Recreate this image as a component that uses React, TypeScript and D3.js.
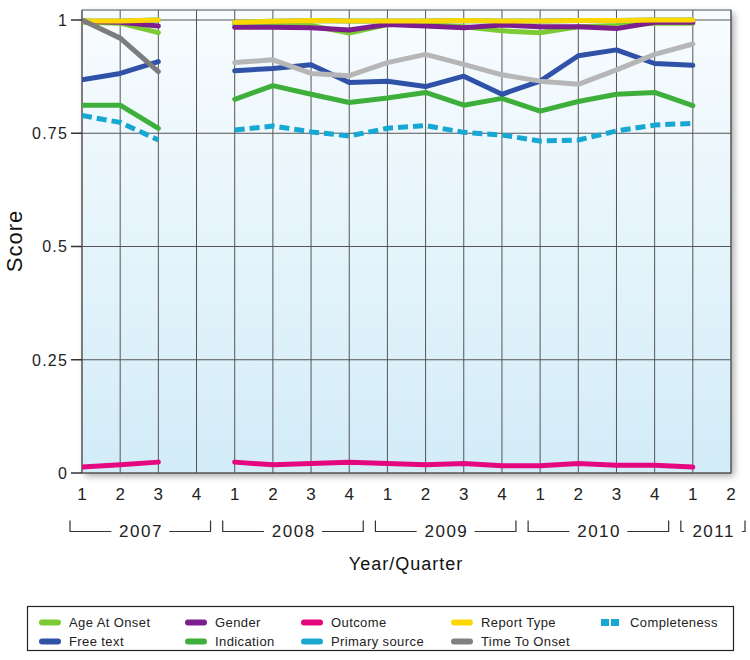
import React from 'react';
import * as d3 from 'd3';

// ---------- data ----------
const quarterLabels = ["1", "2", "3", "4", "1", "2", "3", "4", "1", "2", "3", "4", "1", "2", "3", "4", "1", "2"];
const yearLabels = ["2007", "2008", "2009", "2010", "2011"];
const yearStartIdx = [0, 4, 8, 12, 16];
const yearEndIdx = [3, 7, 11, 15, 17];
const yTicks = [0, 0.25, 0.5, 0.75, 1];
const yTickLabels = ["0", "0.25", "0.5", "0.75", "1"];

const ageAtOnset = [0.995, 0.993, 0.972, null, 0.99, 0.99, 0.988, 0.971, 0.99, 0.99, 0.985, 0.976, 0.972, 0.985, 0.988, 0.993, 0.993, null];
const gender = [0.997, 0.995, 0.987, null, 0.984, 0.984, 0.983, 0.978, 0.99, 0.987, 0.983, 0.989, 0.985, 0.985, 0.981, 0.995, 0.995, null];
const reportType = [0.998, 0.998, 1.0, null, 0.995, 0.997, 0.999, 0.998, 0.998, 0.998, 0.999, 0.998, 0.998, 0.999, 0.999, 1.0, 1.0, null];
const primarySource = [0.998, 0.998, 1.0, null, 0.995, 0.997, 0.999, 0.998, 0.998, 0.998, 0.999, 0.998, 0.998, 0.999, 0.999, 1.0, 1.0, null];
const outcome = [0.013, 0.018, 0.024, null, 0.024, 0.018, 0.021, 0.024, 0.021, 0.018, 0.021, 0.016, 0.016, 0.021, 0.017, 0.017, 0.013, null];
const indication = [0.812, 0.812, 0.761, null, 0.825, 0.855, 0.836, 0.818, 0.828, 0.84, 0.812, 0.827, 0.799, 0.82, 0.836, 0.84, 0.811, null];
const completeness = [0.789, 0.774, 0.735, null, 0.757, 0.766, 0.753, 0.744, 0.761, 0.767, 0.752, 0.746, 0.733, 0.735, 0.755, 0.768, 0.772, null];
const freeText = [0.868, 0.882, 0.908, null, 0.888, 0.893, 0.901, 0.862, 0.865, 0.853, 0.876, 0.836, 0.865, 0.921, 0.934, 0.904, 0.9, null];
const timeToOnset = [1.0, 0.96, 0.886, null, 0.906, 0.912, 0.882, 0.877, 0.906, 0.924, 0.902, 0.879, 0.865, 0.858, 0.89, 0.924, 0.947, null];

// ---------- styles ----------
type Style = { name: string; values: (number | null)[]; color: string; runColors?: string[]; dashed?: boolean };
const drawOrder: Style[] = [
  { name: "Primary source", values: primarySource, color: "#1aa7d0" },
  { name: "Age At Onset", values: ageAtOnset, color: "#7ccb34" },
  { name: "Gender", values: gender, color: "#7d1d8e" },
  { name: "Report Type", values: reportType, color: "#ffd700" },
  { name: "Outcome", values: outcome, color: "#e5077f" },
  { name: "Indication", values: indication, color: "#3daf3a" },
  { name: "Completeness", values: completeness, color: "#16a7d3", dashed: true },
  { name: "Free text", values: freeText, color: "#2f52a8" },
  { name: "Time To Onset", values: timeToOnset, color: "#808080", runColors: ["#7c7c7c", "#b6b6b6"] },
];

const legendRows: { name: string; color: string; dashed?: boolean }[][] = [
  [
    { name: "Age At Onset", color: "#7ccb34" },
    { name: "Gender", color: "#7d1d8e" },
    { name: "Outcome", color: "#e5077f" },
    { name: "Report Type", color: "#ffd700" },
    { name: "Completeness", color: "#16a7d3", dashed: true },
  ],
  [
    { name: "Free text", color: "#2f52a8" },
    { name: "Indication", color: "#3daf3a" },
    { name: "Primary source", color: "#1aa7d0" },
    { name: "Time To Onset", color: "#808080" },
  ],
];
const legendColX = [39, 185, 301, 451, 600];

const FONT = "'Liberation Sans', Arial, Helvetica, sans-serif";

function runsOf(values: (number | null)[]) {
  const runs: { i: number; v: number }[][] = [];
  let cur: { i: number; v: number }[] = [];
  values.forEach((v, i) => {
    if (v === null) {
      if (cur.length) runs.push(cur);
      cur = [];
    } else cur.push({ i, v });
  });
  if (cur.length) runs.push(cur);
  return runs;
}

export default function App() {
  const x = d3.scaleLinear().domain([0, quarterLabels.length - 1]).range([82, 731]);
  const y = d3.scaleLinear().domain([0, 1]).range([473, 20]);
  const top = y(1.022);
  const bottom = y(0);
  const left = x(0);
  const right = x(quarterLabels.length - 1);

  const line = d3
    .line<{ i: number; v: number }>()
    .x((d) => x(d.i))
    .y((d) => y(d.v));

  return (
    <svg width={750} height={660} style={{ position: 'absolute', left: 0, top: 0, background: '#fff' }} fontFamily={FONT}>
      <defs>
        <linearGradient id="bg" x1="0" y1="0" x2="0" y2="1">
          <stop offset="0%" stopColor="#f8fcfe" />
          <stop offset="100%" stopColor="#d2ecf8" />
        </linearGradient>
        <filter id="shadow" x="-5%" y="-5%" width="112%" height="112%">
          <feDropShadow dx="3" dy="3" stdDeviation="3.5" floodColor="#000" floodOpacity="0.35" />
        </filter>
        <clipPath id="plotclip">
          <rect x={left} y={top} width={right - left} height={bottom - top} />
        </clipPath>
      </defs>

      {/* plot background */}
      <rect x={left} y={top} width={right - left} height={bottom - top} fill="url(#bg)" filter="url(#shadow)" />

      {/* grid */}
      {quarterLabels.map((_, i) => (
        <line key={'v' + i} x1={x(i)} x2={x(i)} y1={top} y2={bottom} stroke="#555" strokeWidth={1} />
      ))}
      {yTicks.map((t) => (
        <line key={'h' + t} x1={left} x2={right} y1={y(t)} y2={y(t)} stroke="#555" strokeWidth={1} />
      ))}
      <rect x={left} y={top} width={right - left} height={bottom - top} fill="none" stroke="#555" strokeWidth={1} />

      {/* series */}
      <g clipPath="url(#plotclip)">
        {drawOrder.map((s) =>
          runsOf(s.values).map((run, ri) => (
            <path
              key={s.name + ri}
              d={line(run) || ''}
              fill="none"
              stroke={s.runColors ? s.runColors[Math.min(ri, s.runColors.length - 1)] : s.color}
              strokeWidth={5}
              strokeLinecap={s.dashed ? 'butt' : 'round'}
              strokeLinejoin="round"
              strokeDasharray={s.dashed ? '10,5' : undefined}
            />
          ))
        )}
      </g>

      {/* y axis */}
      {yTicks.map((t, i) => (
        <g key={'yt' + t}>
          <line x1={71} x2={left} y1={y(t)} y2={y(t)} stroke="#333" strokeWidth={1.5} />
          <text x={68} y={y(t)} dy="0.36em" textAnchor="end" fontSize={16} letterSpacing={1.2} fill="#222">
            {yTickLabels[i]}
          </text>
        </g>
      ))}
      <text
        transform={`translate(22,${241}) rotate(-90)`}
        textAnchor="middle"
        fontSize={22}
        letterSpacing={1}
        fill="#111"
      >
        Score
      </text>

      {/* x axis quarter labels */}
      {quarterLabels.map((q, i) => (
        <text key={'q' + i} x={x(i)} y={500} textAnchor="middle" fontSize={17} fill="#222">
          {q}
        </text>
      ))}

      {/* year brackets */}
      {yearLabels.map((yr, k) => {
        const x0 = x(yearStartIdx[k]) - 12;
        const x1 = x(yearEndIdx[k]) + 14;
        const cx = (x0 + x1) / 2;
        const half = 22 + 7;
        return (
          <g key={yr} stroke="#333" strokeWidth={1.2}>
            <path d={`M${x0},520.5V531.5H${cx - half}`} fill="none" />
            <path d={`M${cx + half},531.5H${x1}V520.5`} fill="none" />
            <text x={cx + 0.75} y={537} textAnchor="middle" fontSize={17} letterSpacing={1.5} fill="#222" stroke="none">
              {yr}
            </text>
          </g>
        );
      })}
      <text x={406} y={570} textAnchor="middle" fontSize={18} letterSpacing={1} fill="#111">
        Year/Quarter
      </text>

      {/* legend */}
      <rect x={27.5} y={606.5} width={706} height={44} fill="#fff" stroke="#222" strokeWidth={1.2} />
      {legendRows.map((row, r) =>
        row.map((item, c) => {
          const sx = legendColX[c];
          const cy = 622.5 + r * 19;
          return (
            <g key={item.name}>
              {item.dashed ? (
                <g fill={item.color}>
                  <rect x={sx + 1} y={cy - 3.5} width={8} height={7} />
                  <rect x={sx + 11} y={cy - 3.5} width={8} height={7} />
                </g>
              ) : (
                <line x1={sx + 3} x2={sx + 19} y1={cy} y2={cy} stroke={item.color} strokeWidth={6} strokeLinecap="round" />
              )}
              <text x={sx + 30} y={cy} dy="0.36em" fontSize={13} letterSpacing={0.4} fill="#222">
                {item.name}
              </text>
            </g>
          );
        })
      )}
    </svg>
  );
}
